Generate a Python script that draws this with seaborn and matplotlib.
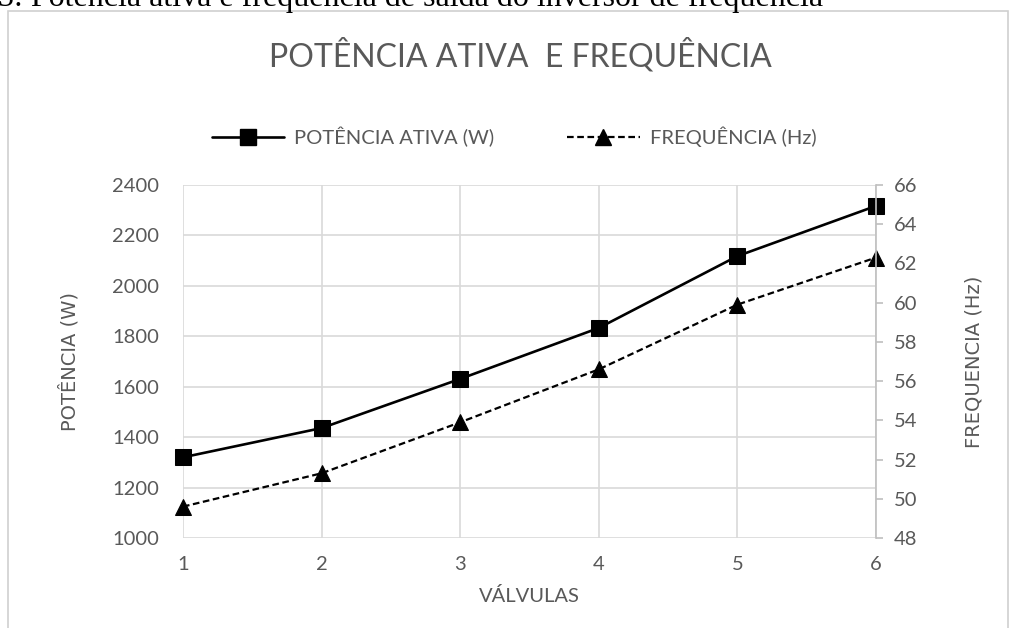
import numpy as np
import pandas as pd
import matplotlib
matplotlib.use("Agg")
import matplotlib.pyplot as plt
import seaborn as sns
from matplotlib.lines import Line2D
from matplotlib.patches import Rectangle

valvulas = [1, 2, 3, 4, 5, 6]
potencia = [1320, 1436, 1631, 1833, 2118, 2317]
frequencia = [49.6, 51.3, 53.9, 56.6, 59.9, 62.3]
left_ticks = [1000, 1200, 1400, 1600, 1800, 2000, 2200, 2400]
right_ticks = [48, 50, 52, 54, 56, 58, 60, 62, 64, 66]

sns.set_theme(style="white")
plt.rcParams['font.family'] = ['Lato', 'DejaVu Sans']

GRAY = '#595959'
GRID = '#d9d9d9'

fig = plt.figure(figsize=(10.12, 6.28), dpi=100)
ax = fig.add_axes([0.1808, 0.1433, 0.6848, 0.5621])
ax2 = ax.twinx()

# chart border
fig.patches.append(Rectangle((8/1012, -0.05), 1000/1012, 1 - 11/628 + 0.05,
                             transform=fig.transFigure, fill=False,
                             edgecolor='#d0d0d0', linewidth=1.2, zorder=0))

df = pd.DataFrame({'v': valvulas, 'p': potencia, 'f': frequencia})
sns.lineplot(data=df, x='v', y='p', ax=ax, color='black', linewidth=1.9,
             marker='s', markersize=11, markeredgecolor='black', clip_on=False)
sns.lineplot(data=df, x='v', y='f', ax=ax2, color='black', linewidth=1.6,
             linestyle=(0, (3, 1.6)), marker='^', markersize=12,
             markeredgecolor='black', clip_on=False)

ax.set_xlim(1, 6)
ax.set_ylim(1000, 2400)
ax2.set_ylim(48, 66)
ax.set_xticks(valvulas)
ax.set_yticks(left_ticks)
ax2.set_yticks(right_ticks)

ax.grid(True, color=GRID, linewidth=1.2)
ax.set_axisbelow(True)
ax2.grid(False)
for s in ['top', 'left', 'bottom', 'right']:
    ax.spines[s].set_visible(False)
    ax2.spines[s].set_visible(False)
ax2.spines['right'].set_visible(True)
ax2.spines['right'].set_color('#bfbfbf')
ax2.spines['right'].set_linewidth(1.2)

ax.tick_params(axis='both', length=0, labelsize=14.5, labelcolor=GRAY, pad=17)
ax.tick_params(axis='x', pad=13)
ax2.tick_params(axis='y', length=5, width=1.2, color='#bfbfbf', direction='out',
                labelsize=14.5, labelcolor=GRAY, pad=8)

ax.set_xlabel('VÁLVULAS', fontsize=14.5, color=GRAY, labelpad=10)
ax.set_ylabel('POTÊNCIA (W)', fontsize=14, color=GRAY, labelpad=24,
              family=['DejaVu Sans'])
ax2.set_ylabel('FREQUENCIA (Hz)', fontsize=14, color=GRAY, labelpad=34,
               family=['DejaVu Sans'])

fig.text(0.514, 1 - 55/628, 'POTÊNCIA ATIVA  E FREQUÊNCIA', ha='center', va='center',
         fontsize=23, color=GRAY)

fig.text(-0.002, 1 - 6/628, '5: Potência ativa e frequência de saída do inversor de frequência',
         ha='left', va='baseline', fontsize=23, color='black',
         family=['Liberation Serif', 'DejaVu Serif'])

handles = [
    Line2D([], [], color='black', linewidth=1.9, marker='s', markersize=11),
    Line2D([], [], color='black', linewidth=1.6, linestyle=(0, (3, 1.6)),
           marker='^', markersize=12),
]
fig.legend(handles, ['POTÊNCIA ATIVA (W)', 'FREQUÊNCIA (Hz)'], loc='center',
           bbox_to_anchor=(0.508, 1 - 137/628), ncol=2, frameon=False,
           fontsize=14.5, labelcolor=GRAY, handlelength=3.6, columnspacing=3.6,
           handletextpad=0.5)

fig.savefig('out.png', dpi=100)
